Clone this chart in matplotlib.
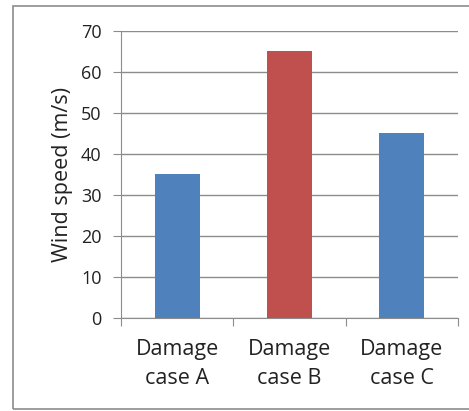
import matplotlib.pyplot as plt
from matplotlib.patches import Rectangle

categories = ["Damage\ncase A", "Damage\ncase B", "Damage\ncase C"]
wind_speed = [35, 65, 45]
bar_colors = ["#4F81BD", "#C0504D", "#4F81BD"]

plt.rcParams['font.family'] = ['Open Sans', 'DejaVu Sans']

fig = plt.figure(figsize=(4.69, 4.11), dpi=100)
ax = fig.add_axes([121 / 469, 1 - 318 / 411, (458 - 121) / 469, (318 - 31) / 411])

# outer chart border
fig.patches.append(Rectangle((13 / 469, 2 / 411), 1.0, 403 / 411, transform=fig.transFigure,
                             fill=False, edgecolor="#8c8c8c", linewidth=1.2))

x = range(len(categories))
ax.bar(x, wind_speed, width=0.4, color=bar_colors, zorder=3)

ax.set_xlim(-0.5, 2.5)
ax.set_ylim(0, 70)
ax.set_yticks(range(0, 71, 10))
ax.grid(axis="y", color="#8c8c8c", linewidth=1.0, zorder=0)

ax.set_xticks([-0.5, 0.5, 1.5, 2.5], minor=False)
ax.set_xticklabels([])
ax.set_xticks(list(x), minor=True)
ax.set_xticklabels(categories, minor=True, fontsize=15.5, color="#222222", linespacing=1.5)
ax.tick_params(axis="x", which="major", length=6, color="#8c8c8c", direction="out")
ax.tick_params(axis="x", which="minor", length=0, pad=15)
ax.tick_params(axis="y", length=6, color="#8c8c8c", labelsize=13, labelcolor="#222222", pad=8)

for side in ["top", "right"]:
    ax.spines[side].set_visible(False)
ax.spines["left"].set_color("#8c8c8c")
ax.spines["bottom"].set_color("#8c8c8c")

ax.set_ylabel("Wind speed (m/s)", fontsize=15.5, color="#222222", labelpad=6)

fig.savefig("out.png", dpi=100)
